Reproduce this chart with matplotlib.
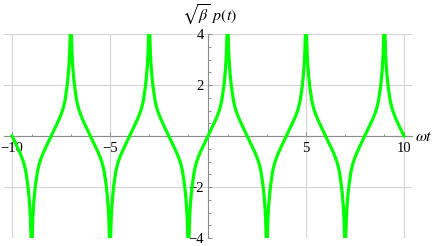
import numpy as np
import matplotlib.pyplot as plt
from matplotlib.ticker import FixedLocator, FixedFormatter, MultipleLocator

plt.rcParams['mathtext.fontset'] = 'stix'
plt.rcParams['font.family'] = ['Liberation Serif', 'DejaVu Serif']

# ----------------------------
# Data
# ----------------------------

# each lobe runs between two zero crossings, singular in the middle
lobe_starts = [-10, -8, -6, -4, -2, 0, 2, 4, 6, 8]
lobe_signs = [-1, 1, -1, 1, -1, 1, -1, 1, -1, 1]

# half a lobe: distance from the singularity vs |sqrt(beta) p|
half_dist = [1.0, 0.9, 0.8, 0.7, 0.6, 0.5, 0.4, 0.3, 0.2, 0.15, 0.1, 0.06, 0.03, 0.0]
half_height = [0.0, 0.16, 0.32, 0.48, 0.65, 0.84, 1.06, 1.38, 1.9, 2.25, 2.7, 3.25, 4.0, 6.0]

x_major = [-10, -5, 0, 5, 10]
x_labels = ['\u221210', '\u22125', '', '5', '10']
y_major = [-4, -2, 0, 2, 4]
y_labels = ['\u22124', '\u22122', '', '2', '4']

# ----------------------------
# Build the curve from the lobes
# ----------------------------

xs, ys = [], []
d = np.array(half_dist)
h = np.array(half_height)
for start, sign in zip(lobe_starts, lobe_signs):
    mid = start + 1
    left_x = mid - d
    right_x = mid + d[::-1][1:]
    seg_x = np.concatenate([left_x, right_x])
    seg_y = sign * np.concatenate([h, h[::-1][1:]])
    if xs:
        seg_x, seg_y = seg_x[1:], seg_y[1:]
    xs.extend(seg_x)
    ys.extend(seg_y)

# ----------------------------
# Plot
# ----------------------------

fig = plt.figure(figsize=(4.36, 2.46), dpi=100)
ax = fig.add_axes([4 / 436, 8 / 246, 408 / 436, 204 / 246])

axis_col = '#8c8c8c'
ax.grid(True, which='major', color='#d4d4d4', lw=0.8, zorder=0)
ax.plot(xs, ys, color='#00ff00', lw=2.3, zorder=3, solid_joinstyle='round')

ax.set_xlim(-10.41, 10.41)
ax.set_ylim(-4, 4)

for side in ['top', 'right']:
    ax.spines[side].set_visible(False)
ax.spines['left'].set_position(('data', 0))
ax.spines['bottom'].set_position(('data', 0))
for side in ['left', 'bottom']:
    ax.spines[side].set_color(axis_col)
    ax.spines[side].set_linewidth(0.8)

ax.xaxis.set_major_locator(FixedLocator(x_major))
ax.xaxis.set_major_formatter(FixedFormatter(x_labels))
ax.xaxis.set_minor_locator(MultipleLocator(1))
ax.yaxis.set_major_locator(FixedLocator(y_major))
ax.yaxis.set_major_formatter(FixedFormatter(y_labels))
ax.yaxis.set_minor_locator(MultipleLocator(0.5))

ax.tick_params(which='both', direction='in', color=axis_col, width=0.7,
               labelsize=10.5, labelcolor='black')
ax.tick_params(which='major', length=3.0)
ax.tick_params(which='minor', length=1.8)
ax.tick_params(axis='x', pad=4)
ax.tick_params(axis='y', pad=3)

fig.text(210 / 436, 1 - 15 / 246, r'$\sqrt{\beta}\ p(t)$', ha='center', va='center', fontsize=11.5)
fig.text(415 / 436, 1 - 137 / 246, r'$\omega t$', ha='left', va='center', fontsize=11.5)

fig.savefig('out.png', dpi=100)
